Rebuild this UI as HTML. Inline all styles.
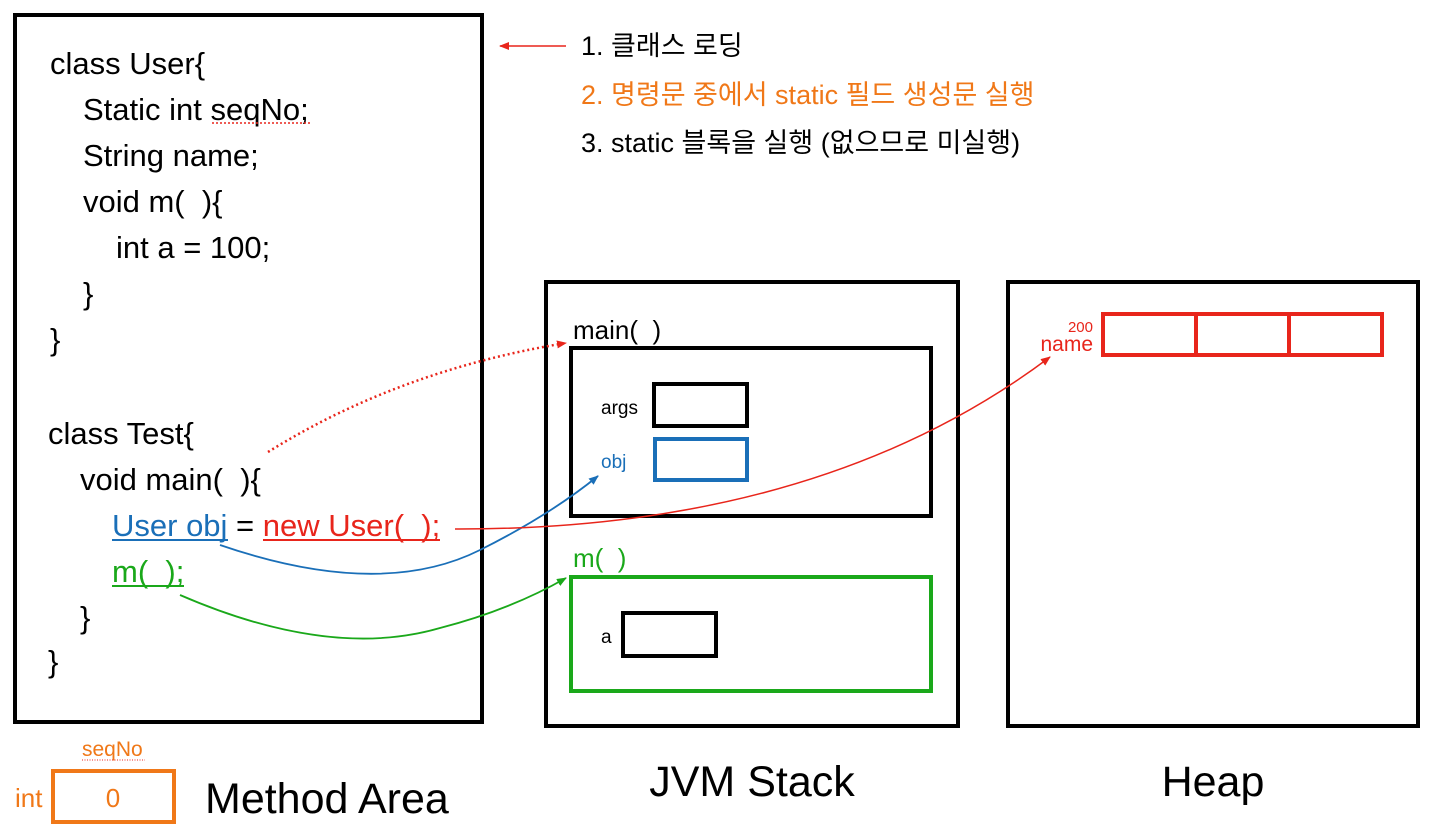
<!DOCTYPE html>
<html><head><meta charset="utf-8"><style>
html,body{margin:0;padding:0;background:#fff;}
svg{display:block;}
text{font-family:"Liberation Sans","Noto Sans CJK KR",sans-serif;white-space:pre;}
</style></head><body>
<svg width="1440" height="836" viewBox="0 0 1440 836" xmlns="http://www.w3.org/2000/svg" xml:space="preserve">
<defs>
<marker id="ar" markerWidth="10" markerHeight="8" refX="9" refY="4" orient="auto" markerUnits="userSpaceOnUse"><path d="M0,0 L10,4 L0,8 z" fill="#e8251b"/></marker>
<marker id="ab" markerWidth="10" markerHeight="8" refX="9" refY="4" orient="auto" markerUnits="userSpaceOnUse"><path d="M0,0 L10,4 L0,8 z" fill="#1a6fb8"/></marker>
<marker id="ag" markerWidth="10" markerHeight="8" refX="9" refY="4" orient="auto" markerUnits="userSpaceOnUse"><path d="M0,0 L10,4 L0,8 z" fill="#1aa81a"/></marker>
</defs>
<rect x="15" y="15" width="467" height="707" fill="none" stroke="#000" stroke-width="4"/>
<g font-size="31" fill="#000">
<text x="50" y="74">class User{</text>
<text x="83" y="120">Static int seqNo;</text>
<text x="83" y="166">String name;</text>
<text x="83" y="212">void m(  ){</text>
<text x="116" y="258">int a = 100;</text>
<text x="83" y="304">}</text>
<text x="50" y="350">}</text>
<text x="48" y="444">class Test{</text>
<text x="80" y="490">void main(  ){</text>
<text x="112" y="536"><tspan fill="#1a6fb8">User obj</tspan> = <tspan fill="#e8251b">new User(  );</tspan></text>
<text x="112" y="582" fill="#1aa81a">m(  );</text>
<text x="80" y="628">}</text>
<text x="48" y="672">}</text>
</g>
<line x1="112" y1="540" x2="228" y2="540" stroke="#1a6fb8" stroke-width="2"/>
<line x1="263" y1="540" x2="440" y2="540" stroke="#e8251b" stroke-width="2"/>
<line x1="112" y1="586" x2="184" y2="586" stroke="#1aa81a" stroke-width="2"/>
<line x1="212" y1="123" x2="310" y2="123" stroke="#e8251b" stroke-width="1.5" stroke-dasharray="2,2"/>

<line x1="566" y1="46" x2="500" y2="46" stroke="#e8251b" stroke-width="1.5" marker-end="url(#ar)"/>
<text x="581" y="55" font-size="27" fill="#000">1. 클래스 로딩</text>
<text x="581" y="104" font-size="27" fill="#f07818">2. 명령문 중에서 static 필드 생성문 실행</text>
<text x="581" y="152" font-size="27" fill="#000">3. static 블록을 실행 (없으므로 미실행)</text>

<rect x="546" y="282" width="412" height="444" fill="none" stroke="#000" stroke-width="4"/>
<text x="573" y="339" font-size="26">main(  )</text>
<rect x="571" y="348" width="360" height="168" fill="none" stroke="#000" stroke-width="4"/>
<text x="601" y="414" font-size="19">args</text>
<rect x="654" y="384" width="93" height="42" fill="none" stroke="#000" stroke-width="4"/>
<text x="601" y="468" font-size="19" fill="#1a6fb8">obj</text>
<rect x="655" y="439" width="92" height="41" fill="none" stroke="#1a6fb8" stroke-width="4"/>
<text x="573" y="567" font-size="26" fill="#1aa81a">m(  )</text>
<rect x="571" y="577" width="360" height="114" fill="none" stroke="#1aa81a" stroke-width="4"/>
<text x="601" y="643" font-size="19">a</text>
<rect x="623" y="613" width="93" height="43" fill="none" stroke="#000" stroke-width="4"/>

<rect x="1008" y="282" width="410" height="444" fill="none" stroke="#000" stroke-width="4"/>
<rect x="1103" y="314" width="279" height="41" fill="none" stroke="#e8251b" stroke-width="4"/>
<line x1="1196" y1="314" x2="1196" y2="355" stroke="#e8251b" stroke-width="4"/>
<line x1="1289" y1="314" x2="1289" y2="355" stroke="#e8251b" stroke-width="4"/>
<text x="1093" y="332" font-size="15" fill="#e8251b" text-anchor="end">200</text>
<text x="1093" y="351" font-size="21" fill="#e8251b" text-anchor="end">name</text>

<path d="M268,452 Q400,370 566,343" fill="none" stroke="#e8251b" stroke-width="2.5" stroke-dasharray="2,3" marker-end="url(#ar)"/>
<path d="M220,545 Q380,600 480,550 Q550,515 598,476" fill="none" stroke="#1a6fb8" stroke-width="1.8" marker-end="url(#ab)"/>
<path d="M455,529 Q820,530 1050,357" fill="none" stroke="#e8251b" stroke-width="1.5" marker-end="url(#ar)"/>
<path d="M180,595 Q330,660 440,628 Q510,610 566,578" fill="none" stroke="#1aa81a" stroke-width="1.8" marker-end="url(#ag)"/>

<text x="82" y="756" font-size="21" fill="#f07818">seqNo</text>
<line x1="82" y1="760" x2="145" y2="760" stroke="#e8251b" stroke-width="1" stroke-dasharray="1,1.5"/>
<rect x="53" y="771" width="121" height="51" fill="none" stroke="#f07818" stroke-width="4"/>
<text x="15" y="807" font-size="26" fill="#f07818">int</text>
<text x="113" y="807" font-size="26" fill="#f07818" text-anchor="middle">0</text>
<text x="205" y="813" font-size="43">Method Area</text>
<text x="752" y="796" font-size="43" text-anchor="middle">JVM Stack</text>
<text x="1213" y="796" font-size="43" text-anchor="middle">Heap</text>
</svg>
</body></html>
